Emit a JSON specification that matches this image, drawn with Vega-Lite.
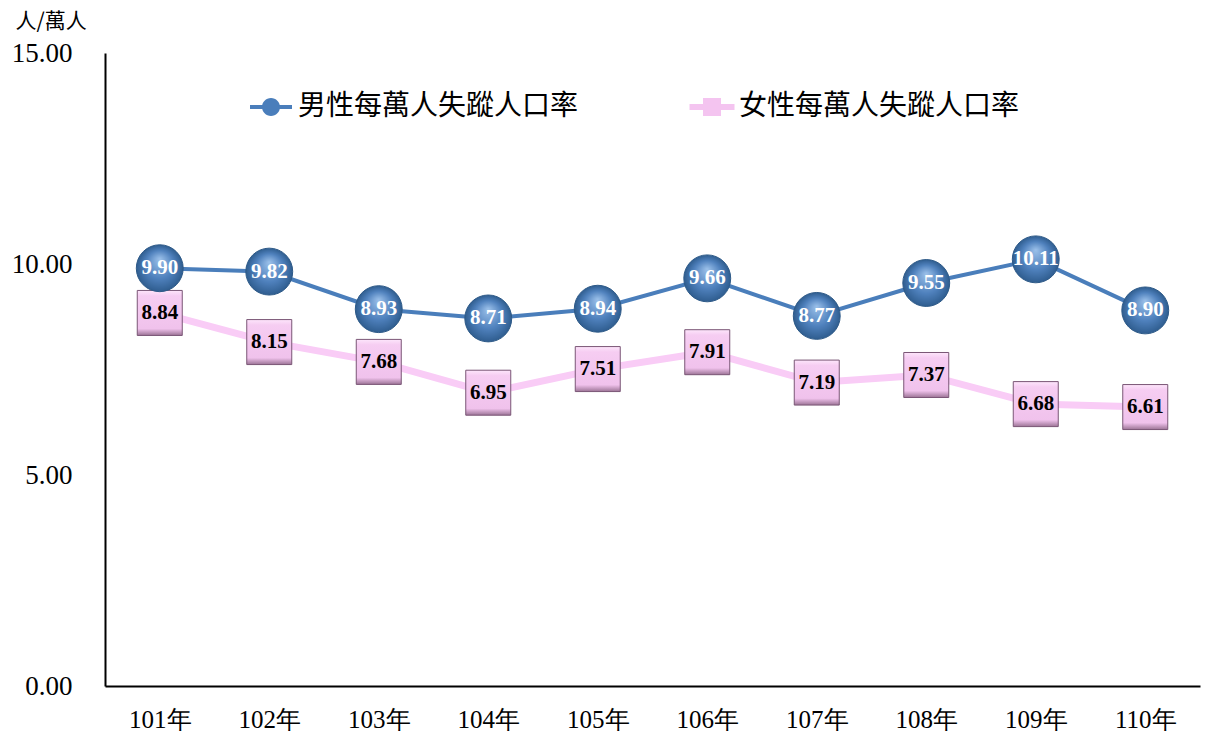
{
  "$schema": "https://vega.github.io/schema/vega-lite/v6.json",
  "width": 1095,
  "height": 633,
  "autosize": {"type": "none"},
  "padding": {"left": 105, "top": 53, "right": 5, "bottom": 49},
  "background": "white",
  "config": {"view": {"stroke": null}, "font": "Liberation Serif"},
  "data": {
    "values": [
      {"year": "101年", "series": "男性每萬人失蹤人口率", "value": 9.90},
      {"year": "102年", "series": "男性每萬人失蹤人口率", "value": 9.82},
      {"year": "103年", "series": "男性每萬人失蹤人口率", "value": 8.93},
      {"year": "104年", "series": "男性每萬人失蹤人口率", "value": 8.71},
      {"year": "105年", "series": "男性每萬人失蹤人口率", "value": 8.94},
      {"year": "106年", "series": "男性每萬人失蹤人口率", "value": 9.66},
      {"year": "107年", "series": "男性每萬人失蹤人口率", "value": 8.77},
      {"year": "108年", "series": "男性每萬人失蹤人口率", "value": 9.55},
      {"year": "109年", "series": "男性每萬人失蹤人口率", "value": 10.11},
      {"year": "110年", "series": "男性每萬人失蹤人口率", "value": 8.90},
      {"year": "101年", "series": "女性每萬人失蹤人口率", "value": 8.84},
      {"year": "102年", "series": "女性每萬人失蹤人口率", "value": 8.15},
      {"year": "103年", "series": "女性每萬人失蹤人口率", "value": 7.68},
      {"year": "104年", "series": "女性每萬人失蹤人口率", "value": 6.95},
      {"year": "105年", "series": "女性每萬人失蹤人口率", "value": 7.51},
      {"year": "106年", "series": "女性每萬人失蹤人口率", "value": 7.91},
      {"year": "107年", "series": "女性每萬人失蹤人口率", "value": 7.19},
      {"year": "108年", "series": "女性每萬人失蹤人口率", "value": 7.37},
      {"year": "109年", "series": "女性每萬人失蹤人口率", "value": 6.68},
      {"year": "110年", "series": "女性每萬人失蹤人口率", "value": 6.61}
    ]
  },
  "encoding": {
    "x": {
      "field": "year", "type": "nominal", "sort": null,
      "scale": {"type": "point", "padding": 0.5},
      "axis": {"title": null, "domainColor": "black", "domainWidth": 2, "ticks": false, "grid": false,
        "labelFont": "Liberation Serif", "labelFontSize": 25, "labelColor": "black", "labelPadding": 21, "labelAngle": 0}
    },
    "y": {
      "field": "value", "type": "quantitative",
      "scale": {"domain": [0, 15], "nice": false},
      "axis": {"values": [0, 5, 10, 15], "format": ".2f", "title": "人/萬人",
        "titleAngle": 0, "titleAlign": "left", "titleBaseline": "middle", "titleX": -90, "titleY": -32,
        "titleFont": "Noto Sans CJK TC", "titleFontSize": 21, "titleFontWeight": "normal", "titleColor": "black",
        "ticks": false, "grid": false, "domainColor": "black", "domainWidth": 2,
        "labelFont": "Liberation Serif", "labelFontSize": 27, "labelPadding": 33, "labelColor": "black"}
    }
  },
  "layer": [
    {
      "transform": [{"filter": "datum.series === '女性每萬人失蹤人口率'"}],
      "mark": {"type": "line", "color": "#f9ccf6", "strokeWidth": 7}
    },
    {
      "transform": [{"filter": "datum.series === '男性每萬人失蹤人口率'"}],
      "mark": {"type": "line", "color": "#4a7ebb", "strokeWidth": 4}
    },
    {
      "mark": {"type": "point", "filled": true, "opacity": 0, "size": 900},
      "encoding": {
        "color": {
          "field": "series", "type": "nominal",
          "scale": {"domain": ["男性每萬人失蹤人口率", "女性每萬人失蹤人口率"], "range": ["#4a7ebb", "#f4c4f0"]},
          "legend": {"title": null, "orient": "none", "legendX": 151, "legendY": 39, "direction": "horizontal",
            "labelFont": "Noto Sans CJK TC", "labelFontSize": 28, "labelColor": "black", "labelLimit": 400,
            "symbolSize": 900, "labelOffset": 12, "columnPadding": 110, "symbolStrokeWidth": 0, "symbolOpacity": 1, "padding": 0}
        },
        "shape": {
          "field": "series", "type": "nominal",
          "scale": {"domain": ["男性每萬人失蹤人口率", "女性每萬人失蹤人口率"],
            "range": ["M-1.4,-0.13H-0.5V0.13H-1.4Z M0.5,-0.13H1.4V0.13H0.5Z M-0.6,0A0.6,0.6 0 1,1 0.6,0A0.6,0.6 0 1,1 -0.6,0Z",
                      "M-1.5,-0.2H-0.6V0.2H-1.5Z M0.6,-0.2H1.5V0.2H0.6Z M-0.6,-0.6H0.6V0.6H-0.6Z"]},
          "legend": {"title": null, "orient": "none", "legendX": 151, "legendY": 39, "direction": "horizontal",
            "labelFont": "Noto Sans CJK TC", "labelFontSize": 28, "labelColor": "black", "labelLimit": 400,
            "symbolSize": 900, "labelOffset": 12, "columnPadding": 110, "symbolStrokeWidth": 0, "symbolOpacity": 1, "padding": 0}
        }
      }
    },
    {
      "transform": [{"filter": "datum.series === '女性每萬人失蹤人口率'"}],
      "mark": {"type": "point", "shape": "square", "size": 2025, "filled": true, "opacity": 1,
        "fill": {"gradient": "linear", "x1": 0, "y1": 0, "x2": 0, "y2": 1,
          "stops": [{"offset": 0, "color": "#fde6fb"}, {"offset": 0.12, "color": "#f6cdf2"}, {"offset": 0.85, "color": "#f0c2ec"}, {"offset": 1, "color": "#9c7496"}]},
        "stroke": "#7a5676", "strokeWidth": 1}
    },
    {
      "transform": [{"filter": "datum.series === '男性每萬人失蹤人口率'"}],
      "mark": {"type": "point", "shape": "circle", "size": 2200, "filled": true, "opacity": 1,
        "fill": {"gradient": "radial", "x1": 0.5, "y1": 0.3, "r1": 0, "x2": 0.5, "y2": 0.5, "r2": 0.5,
          "stops": [{"offset": 0, "color": "#9cc1ea"}, {"offset": 0.6, "color": "#4f81bd"}, {"offset": 1, "color": "#2f5d8f"}]},
        "stroke": "#2e5a88", "strokeWidth": 1}
    },
    {
      "transform": [{"filter": "datum.series === '女性每萬人失蹤人口率'"}],
      "mark": {"type": "text", "font": "Liberation Serif", "fontWeight": "bold", "fontSize": 21, "color": "black", "baseline": "middle", "align": "center"},
      "encoding": {"text": {"field": "value", "type": "quantitative", "format": ".2f"}}
    },
    {
      "transform": [{"filter": "datum.series === '男性每萬人失蹤人口率'"}],
      "mark": {"type": "text", "font": "Liberation Serif", "fontWeight": "bold", "fontSize": 21, "color": "white", "baseline": "middle", "align": "center"},
      "encoding": {"text": {"field": "value", "type": "quantitative", "format": ".2f"}}
    }
  ]
}
